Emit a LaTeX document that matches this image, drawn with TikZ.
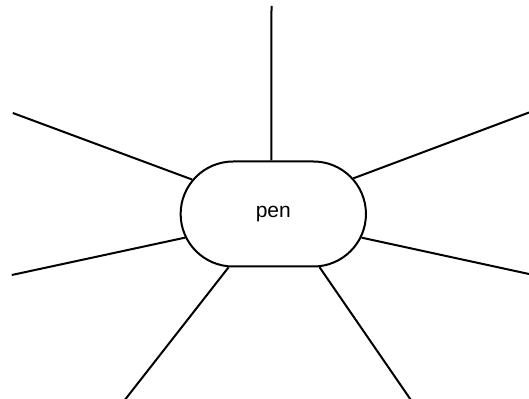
\documentclass[tikz,border=0pt]{standalone}
\usepackage{fontspec}
\setmainfont{Liberation Sans}
\usetikzlibrary{shapes.misc}

\begin{document}
\begin{tikzpicture}[x=0.75pt,y=-0.75pt,
		spoke/.style={line width=1.5pt},
		word/.style={rounded rectangle, draw, line width=1.5pt, minimum width=139pt, minimum height=78.75pt, inner sep=0pt, font=\fontsize{15.75}{18}\selectfont}]
	\useasboundingbox (0,0) rectangle (529,399);
	\node[word] (pen) at (273.3,214) {pen};
	\coordinate (n) at (271.5,6);
	\coordinate (nw) at (12.8,113);
	\coordinate (ne) at (529,112.5);
	\coordinate (w) at (11.8,275);
	\coordinate (e) at (529,274);
	\coordinate (sw) at (124,401);
	\coordinate (se) at (411.6,401);
	\draw[spoke] (pen.92) -- (n);
	\draw[spoke] (pen.157) -- (nw);
	\draw[spoke] (pen.24) -- (ne);
	\draw[spoke] (pen.-165) -- (w);
	\draw[spoke] (pen.-15) -- (e);
	\draw[spoke] (pen.-130) -- (sw);
	\draw[spoke] (pen.-49) -- (se);
\end{tikzpicture}
\end{document}
